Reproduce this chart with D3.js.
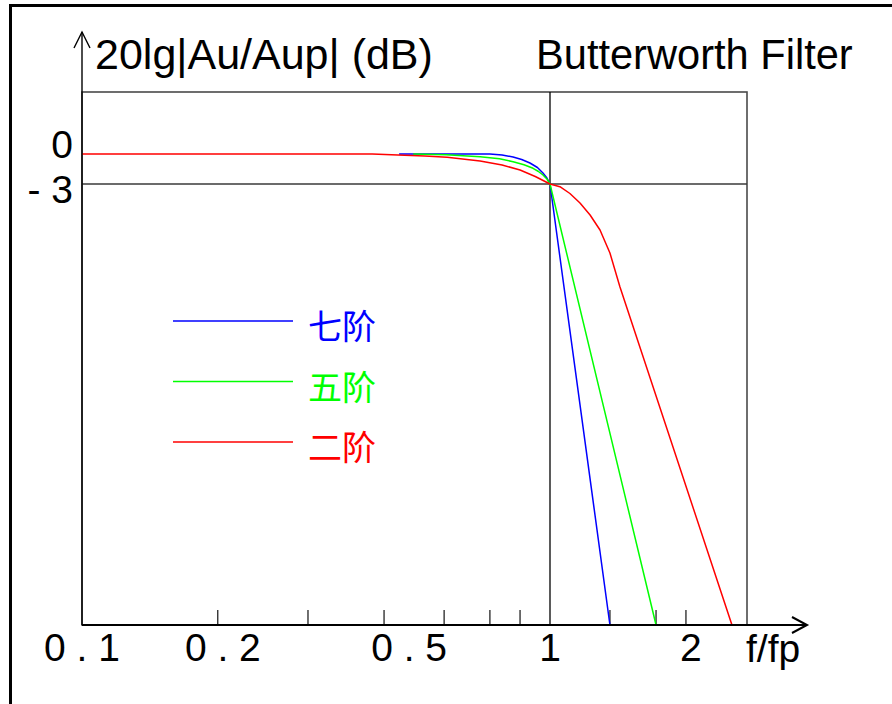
<!DOCTYPE html>
<html><head><meta charset="utf-8">
<script src="https://cdn.jsdelivr.net/npm/d3@7"></script>
<style>body{margin:0;background:#fff} svg{display:block}</style>
</head><body><svg id="c" width="892" height="704"></svg>
<script>
// ---- data ----
const seriesNames = ["七阶", "五阶", "二阶"];
const seriesColors = ["#0000ff", "#00ff00", "#ff0000"];
const order7F  = [0.476, 0.744, 0.790, 0.834, 0.870, 0.906, 0.940, 0.966, 0.985, 1.0, 1.343];
const order7DB = [0, 0, -0.1, -0.3, -0.55, -0.9, -1.35, -1.9, -2.4, -3.0, -47.1];
const order5F  = [0.510, 0.600, 0.709, 0.780, 0.834, 0.880, 0.920, 0.945, 0.966, 0.985, 1.0, 1.685];
const order5DB = [0, -0.08, -0.27, -0.48, -0.77, -1.08, -1.43, -1.75, -2.1, -2.5, -3.0, -47.1];
const order2F  = [0.1, 0.179, 0.292, 0.417, 0.473, 0.540, 0.603, 0.709, 0.790, 0.863, 0.930, 1.0, 1.050, 1.103, 1.159, 1.218, 1.279, 1.343, 1.411, 2.448];
const order2DB = [0, 0, 0, 0, -0.1, -0.2, -0.33, -0.7, -1.1, -1.6, -2.25, -3.0, -3.27, -3.95, -4.9, -6.1, -7.6, -9.9, -13.3, -47.1];
const xTickValues = [0.195, 0.304, 0.442, 0.594, 0.744, 0.863, 1.343, 1.685, 1.952];
const xLabelValues = [0.1, 0.2, 0.5, 1, 2];
const xLabelTexts = ["0 . 1", "0 . 2", "0 . 5", "1", "2"];
const yLabelValues = [0, -3];
const yLabelTexts = ["0", "- 3"];
const xDomain = [0.1, 2.636];
const yDomain = [-47.1, 6.2];

// ---- layout ----
const svg = d3.select("#c");
const L = 82, R = 747, T = 92, B = 625;
const x = d3.scaleLog().domain(xDomain).range([L, R]);
const y = d3.scaleLinear().domain(yDomain).range([B, T]);
const FONT = "'Liberation Sans', Arial, sans-serif";

// outer frame
svg.append("path").attr("d", `M10.5,708 L10.5,5.5 L896,5.5`)
  .attr("fill", "none").attr("stroke", "#000").attr("stroke-width", 3);

// plot box
svg.append("rect").attr("x", L).attr("y", T).attr("width", R - L).attr("height", B - T)
  .attr("fill", "none").attr("stroke", "#4a4a4a").attr("stroke-width", 1.6);

// reference lines: f = 1 and -3 dB
svg.append("line").attr("x1", x(1)).attr("x2", x(1)).attr("y1", T).attr("y2", B)
  .attr("stroke", "#000").attr("stroke-width", 1.3);
svg.append("line").attr("x1", L).attr("x2", R).attr("y1", y(-3)).attr("y2", y(-3))
  .attr("stroke", "#3a3a3a").attr("stroke-width", 1.5);

// x ticks
svg.selectAll(".xt").data(xTickValues).enter().append("line")
  .attr("x1", d => x(d)).attr("x2", d => x(d)).attr("y1", B - 15).attr("y2", B)
  .attr("stroke", "#333").attr("stroke-width", 1.4);

// curves
const line = d3.line().x(d => x(d[0])).y(d => y(d[1])).curve(d3.curveLinear);
const series = [
  d3.zip(order7F, order7DB),
  d3.zip(order5F, order5DB),
  d3.zip(order2F, order2DB)
];
series.forEach((s, i) => {
  svg.append("path").datum(s).attr("d", line).attr("fill", "none")
    .attr("stroke", seriesColors[i]).attr("stroke-width", 1.5)
    .attr("stroke-linejoin", "round");
});

// axes with arrows
svg.append("line").attr("x1", L).attr("x2", L).attr("y1", B).attr("y2", 32)
  .attr("stroke", "#000").attr("stroke-width", 1.4);
svg.append("path").attr("d", `M74,48 L${L},32 L90,48`).attr("fill", "none")
  .attr("stroke", "#000").attr("stroke-width", 1.4);
svg.append("line").attr("x1", L).attr("x2", 807).attr("y1", B).attr("y2", B)
  .attr("stroke", "#000").attr("stroke-width", 2);
svg.append("path").attr("d", `M792,617 L807,${B} L792,633`).attr("fill", "none")
  .attr("stroke", "#000").attr("stroke-width", 2);

// x labels
svg.selectAll(".xl").data(xLabelValues).enter().append("text")
  .attr("x", d => x(d)).attr("y", 661).attr("text-anchor", "middle")
  .attr("font-family", FONT).attr("font-size", 39).attr("fill", "#000")
  .text((d, i) => xLabelTexts[i]);
svg.append("text").attr("x", 746).attr("y", 662).attr("font-family", FONT)
  .attr("font-size", 39).text("f/fp");

// y labels
const yLabelDy = [4, 19];
svg.selectAll(".yl").data(yLabelValues).enter().append("text")
  .attr("x", 73).attr("y", (d, i) => y(d) + yLabelDy[i]).attr("text-anchor", "end")
  .attr("font-family", FONT).attr("font-size", 39).attr("fill", "#000")
  .text((d, i) => yLabelTexts[i]);

// titles
svg.append("text").attr("x", 95).attr("y", 69).attr("font-family", FONT)
  .attr("font-size", 43).text("20lg|Au/Aup| (dB)");
svg.append("text").attr("x", 536).attr("y", 69).attr("font-family", FONT)
  .attr("font-size", 41.6).text("Butterworth Filter");

// legend
seriesNames.forEach((n, i) => {
  const ly = 321 + i * 60.5;
  svg.append("line").attr("x1", 173).attr("x2", 293).attr("y1", ly).attr("y2", ly)
    .attr("stroke", seriesColors[i]).attr("stroke-width", 1.5);
  svg.append("text").attr("x", 308).attr("y", ly + 18)
    .attr("font-family", "'Noto Sans CJK SC', sans-serif").attr("font-size", 34)
    .attr("fill", seriesColors[i]).text(n);
});
</script></body></html>
